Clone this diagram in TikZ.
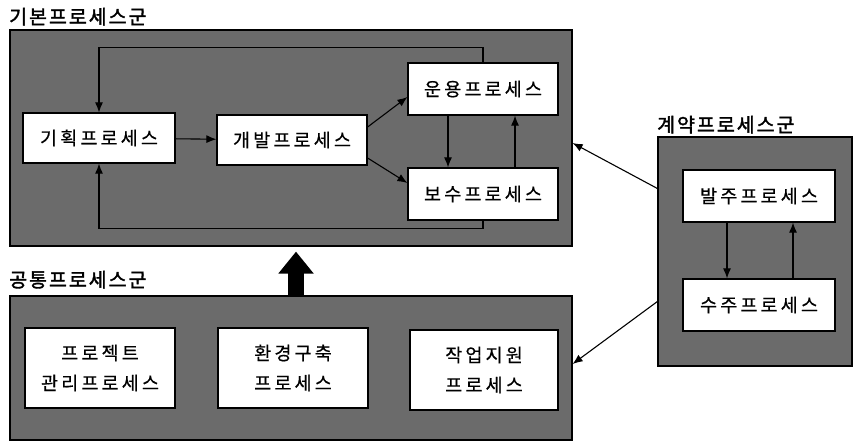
\documentclass[tikz,border=0pt]{standalone}
\usepackage{fontspec}
\usepackage{tikz}
\usetikzlibrary{arrows.meta}
\newfontfamily\kr[LetterSpace=17,FakeBold=0.6]{Noto Sans CJK KR}
\newfontfamily\krtitle[LetterSpace=10,FakeBold=1.8]{Noto Sans CJK KR}
\definecolor{groupGray}{gray}{0.42}

\begin{document}
\begin{tikzpicture}[x=1pt, y=-1pt,
  group/.style={draw=black, line width=1.2pt, fill=groupGray, inner sep=0pt},
  procbox/.style={draw=black, line width=1.2pt, fill=white, inner sep=0pt,
    minimum width=150pt, align=center, font=\kr\fontsize{18.5}{30}\selectfont},
  grouptitle/.style={anchor=base west, inner sep=0pt, font=\krtitle\fontsize{19.5}{22}\selectfont},
  arr/.style={line width=1.1pt, -{Latex[length=10pt,width=8pt]}}]
	\useasboundingbox (0,0) rectangle (856,444);
	% groups
	\node[group, minimum width=562pt, minimum height=216pt] (basic) at (291,138) {};
	\node[group, minimum width=562pt, minimum height=144pt] (common) at (291,368) {};
	\node[group, minimum width=194pt, minimum height=229pt] (contract) at (755,251.5) {};
	\node[grouptitle] (basicT) at (9,24) {기본프로세스군};
	\node[grouptitle] (commonT) at (9,287) {공통프로세스군};
	\node[grouptitle] (contractT) at (657,132) {계약프로세스군};
	% basic processes
	\node[procbox, minimum height=50pt, minimum width=152pt] (gihoek) at (99,138) {기획프로세스};
	\node[procbox, minimum height=50pt] (gaebal) at (292,140) {개발프로세스};
	\node[procbox, minimum height=52pt] (unyong) at (483,89) {운용프로세스};
	\node[procbox, minimum height=52pt] (bosu) at (483,194) {보수프로세스};
	% common processes
	\node[procbox, minimum height=80pt] (project) at (100,368) {프로젝트\\관리프로세스};
	\node[procbox, minimum height=80pt] (env) at (293,368) {환경구축\\프로세스};
	\node[procbox, minimum height=80pt, minimum width=148pt] (work) at (484,370) {작업지원\\프로세스};
	% contract processes
	\node[procbox, minimum height=52pt, minimum width=152pt] (balju) at (759,196) {발주프로세스};
	\node[procbox, minimum height=52pt, minimum width=152pt] (suju) at (759,305) {수주프로세스};
	% connectors
	\draw[arr] (gihoek) -- (gaebal);
	\draw[arr] ([yshift=13pt]gaebal.east) -- ([yshift=-8pt]unyong.west);
	\draw[arr] ([yshift=-18pt]gaebal.east) -- ([yshift=11pt]bosu.west);
	\draw[arr] ([xshift=-35pt]unyong.south) -- ([xshift=-35pt]bosu.north);
	\draw[arr] ([xshift=32pt]bosu.north) -- ([xshift=32pt]unyong.south);
	\draw[arr] (unyong.north) -- ++(0,-15) -| (gihoek.north);
	\draw[arr] (bosu.south) -- ++(0,8) -| (gihoek.south);
	\draw[arr] ([xshift=-32pt]balju.south) -- ([xshift=-32pt]suju.north);
	\draw[arr] ([xshift=34pt]suju.north) -- ([xshift=34pt]balju.south);
	\draw[arr] ([yshift=63pt]contract.west) -- ([yshift=-5pt]basic.east);
	\draw[arr] ([yshift=-50pt]contract.west) -- ([yshift=4pt]common.east);
	\draw[line width=16pt, -{Triangle[length=22pt,width=34pt]}, shorten >=5pt]
		([xshift=5pt]common.north) -- ([xshift=5pt]basic.south);
\end{tikzpicture}
\end{document}
